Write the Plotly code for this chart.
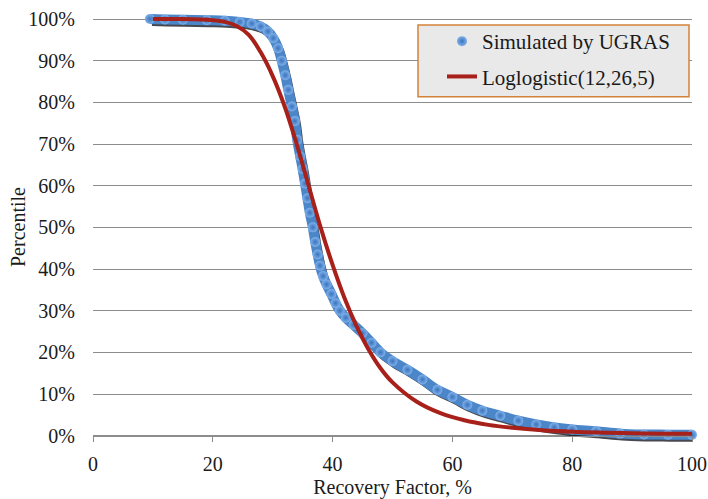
import plotly.graph_objects as go

# Simulated (UGRAS) exceedance percentile curve
sim_x = [9.5, 12, 15, 19, 22, 24.5, 26.5, 28, 29.2, 30.1, 30.9, 31.5, 32.1, 32.6,
         33.2, 33.7, 34.1, 34.6, 35.0, 35.4, 35.8, 36.2, 36.7, 37.1, 37.5, 37.9,
         38.4, 39.0, 39.8, 40.5, 41.2, 42.2, 43.5, 45.0, 46.5, 48.0, 50.0, 52.5,
         55.0, 57.5, 60.0, 62.5, 65.0, 68.0, 71.0, 74.0, 77.0, 80.0, 84.0, 88.0,
         92.0, 96.0, 100.0]
sim_p = [100, 99.9, 99.8, 99.7, 99.6, 99.3, 98.9, 98.2, 97.0, 95.4, 93.0, 90.0,
         86.5, 83.0, 79.0, 75.5, 71.0, 67.0, 64.0, 60.5, 57.0, 53.5, 50.0, 46.5,
         43.5, 40.8, 38.3, 36.3, 34.0, 31.8, 30.0, 28.3, 26.6, 24.6, 22.3, 20.0,
         17.9, 15.8, 13.5, 11.0, 9.3, 7.4, 6.0, 4.8, 3.6, 2.7, 2.0, 1.5, 1.05,
         0.5, 0.3, 0.25, 0.2]

# Fitted Loglogistic(12,26,5) curve
fit_x = [10, 15, 20, 22, 24, 26, 28, 30, 32, 34, 36, 38, 40, 42, 44, 46, 48, 50,
         54, 58, 62, 66, 70, 75, 80, 90, 100]
fit_p = [100, 100, 99.7, 99.3, 98.3, 96.2, 92.0, 86.3, 79.0, 70.0, 60.0, 50.0,
         41.0, 33.0, 26.3, 20.7, 16.2, 12.8, 8.2, 5.4, 3.7, 2.6, 1.9, 1.3, 0.95,
         0.6, 0.45]

sim_y = [v / 100 for v in sim_p]
fit_y = [v / 100 for v in fit_p]

x_ticks = [0, 20, 40, 60, 80, 100]

FONT = "Liberation Serif, Times New Roman, serif"
GRID = "#8c8c8c"
TXT = "#1a1a1a"

fig = go.Figure()

# placeholder trace on the visible axes (keeps axes active)
fig.add_trace(go.Scatter(x=[None], y=[None], mode="markers", showlegend=False,
                         hoverinfo="skip"))
# shadow of the simulated band (drawn on slightly offset overlay axes)
fig.add_trace(go.Scatter(x=sim_x, y=sim_y, mode="lines", xaxis="x2", yaxis="y2",
                         line=dict(color="rgba(10,10,20,0.75)", width=8, shape="spline"),
                         showlegend=False, hoverinfo="skip"))
# simulated band
fig.add_trace(go.Scatter(x=sim_x, y=sim_y, mode="lines", xaxis="x3", yaxis="y3",
                         line=dict(color="#4a86c8", width=10, shape="spline"),
                         showlegend=False, hoverinfo="skip"))
# simulated markers
fig.add_trace(go.Scatter(x=sim_x, y=sim_y, mode="markers", name="Simulated by UGRAS",
                         xaxis="x3", yaxis="y3",
                         legendgroup="a", cliponaxis=False,
                         marker=dict(size=10, color="#7fb0ea",
                                     gradient=dict(type="radial", color="#3a74bd"),
                                     line=dict(width=0))))
# fitted curve
fig.add_trace(go.Scatter(x=fit_x, y=fit_y, mode="lines", name="Loglogistic(12,26,5)",
                         xaxis="x3", yaxis="y3", legendgroup="b",
                         line=dict(color="#a8201a", width=4, shape="spline")))

y_lo, y_hi = -0.0151, 1.012
x_lo, x_hi = 0, 100

fig.update_layout(
    width=708, height=499,
    margin=dict(l=93, r=16, t=14, b=57),
    paper_bgcolor="white", plot_bgcolor="white",
    font=dict(family=FONT, size=20, color=TXT),
    xaxis=dict(range=[x_lo, x_hi], tickvals=x_ticks, showgrid=False, zeroline=False,
               showline=True, linecolor=GRID, linewidth=1.3,
               ticks="outside", ticklen=5, tickcolor=GRID, tickwidth=1.3,
               anchor="free", position=(0 - y_lo) / (y_hi - y_lo),
               ticklabelstandoff=5, automargin=False, ticklabeloverflow="allow",
               tickfont=dict(family=FONT, size=20, color=TXT),
               title=dict(text="Recovery Factor, %", standoff=6,
                          font=dict(family=FONT, size=20, color=TXT))),
    yaxis=dict(range=[y_lo, y_hi], tickvals=[i / 10 for i in range(11)],
               tickformat=".0%", showgrid=True, gridcolor=GRID, gridwidth=1.3,
               zeroline=False, showline=False, ticks="",
               ticklabelstandoff=17, automargin=False,
               tickfont=dict(family=FONT, size=20, color=TXT)),
    xaxis2=dict(overlaying="x", range=[x_lo - 0.35, x_hi - 0.35], visible=False),
    yaxis2=dict(overlaying="y", range=[y_lo + 0.0072, y_hi + 0.0072], visible=False),
    xaxis3=dict(overlaying="x", range=[x_lo, x_hi], visible=False),
    yaxis3=dict(overlaying="y", range=[y_lo, y_hi], visible=False),
    legend=dict(x=(442 - 93) / 599, y=(442 - 21) / 428, xanchor="left", yanchor="top",
                bgcolor="rgba(0,0,0,0)", borderwidth=0,
                traceorder="grouped", tracegroupgap=5,
                font=dict(family=FONT, size=21, color=TXT)),
    annotations=[dict(text="Percentile", textangle=-90, xref="paper", yref="paper",
                      x=(18 - 93) / 599, y=(442 - 227) / 428, xanchor="center",
                      yanchor="middle", showarrow=False,
                      font=dict(family=FONT, size=20, color=TXT))],
    shapes=[dict(type="rect", xref="paper", yref="paper",
                 x0=(418 - 93) / 599, x1=(689 - 93) / 599,
                 y0=(442 - 96.7) / 428, y1=(442 - 25) / 428,
                 fillcolor="#e9e9e9", line=dict(color="#d4823a", width=1.5),
                 layer="above")],
    showlegend=True,
)

fig.write_html("out.html",
               config={"displayModeBar": False},
               post_script="document.body.style.margin='0';"
                           "document.body.style.overflow='hidden';")
